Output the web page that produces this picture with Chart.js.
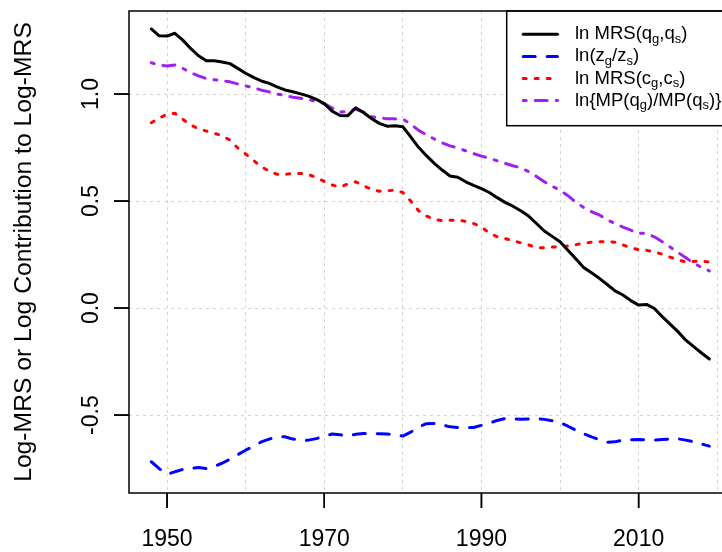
<!DOCTYPE html>
<html>
<head>
<meta charset="utf-8">
<script src="https://cdn.jsdelivr.net/npm/chart.js@4.4.1/dist/chart.umd.min.js"></script>
<style>
  html, body { margin: 0; padding: 0; background: #fff; overflow: hidden; }
  #wrap { width: 722px; height: 552px; overflow: hidden; position: relative; }
  #c, #ov { position: absolute; left: 0; top: 0; }
  #ov { pointer-events: none; z-index: 2; }
</style>
</head>
<body>
<div id="wrap">
  <canvas id="c" width="760" height="552" style="width:760px;height:552px"></canvas>
  <canvas id="ov" width="760" height="552" style="width:760px;height:552px"></canvas>
</div>
<script>
// annual observations, 1948-2019
const years = [
  1948, 1949, 1950, 1951, 1952, 1953, 1954, 1955, 1956, 1957,
  1958, 1959, 1960, 1961, 1962, 1963, 1964, 1965, 1966, 1967,
  1968, 1969, 1970, 1971, 1972, 1973, 1974, 1975, 1976, 1977,
  1978, 1979, 1980, 1981, 1982, 1983, 1984, 1985, 1986, 1987,
  1988, 1989, 1990, 1991, 1992, 1993, 1994, 1995, 1996, 1997,
  1998, 1999, 2000, 2001, 2002, 2003, 2004, 2005, 2006, 2007,
  2008, 2009, 2010, 2011, 2012, 2013, 2014, 2015, 2016, 2017,
  2018, 2019
];

// ln MRS(qg,qs)
const mrsQ = [
  1.304, 1.272, 1.271, 1.284, 1.252, 1.213, 1.179, 1.156, 1.156, 1.150,
  1.142, 1.120, 1.097, 1.078, 1.061, 1.050, 1.034, 1.019, 1.011, 1.001,
  0.990, 0.975, 0.955, 0.920, 0.900, 0.899, 0.936, 0.914, 0.886, 0.863,
  0.850, 0.852, 0.847, 0.800, 0.751, 0.712, 0.676, 0.645, 0.617, 0.611,
  0.590, 0.573, 0.558, 0.540, 0.516, 0.494, 0.476, 0.455, 0.430, 0.395,
  0.360, 0.335, 0.310, 0.270, 0.230, 0.190, 0.165, 0.139, 0.110, 0.080,
  0.061, 0.035, 0.014, 0.017, -0.002, -0.040, -0.075, -0.110, -0.150, -0.180,
  -0.210, -0.238
];

// ln(zg/zs)
const zRatio = [
  -0.718, -0.750, -0.777, -0.765, -0.754, -0.749, -0.745, -0.750, -0.740, -0.725,
  -0.706, -0.685, -0.664, -0.645, -0.625, -0.612, -0.603, -0.601, -0.612, -0.617,
  -0.617, -0.610, -0.600, -0.588, -0.592, -0.597, -0.590, -0.586, -0.586, -0.587,
  -0.588, -0.592, -0.598, -0.580, -0.555, -0.540, -0.539, -0.545, -0.555, -0.558,
  -0.558, -0.558, -0.548, -0.538, -0.525, -0.516, -0.518, -0.519, -0.518, -0.516,
  -0.520, -0.527, -0.535, -0.552, -0.570, -0.587, -0.602, -0.615, -0.627, -0.625,
  -0.617, -0.615, -0.614, -0.615, -0.617, -0.614, -0.612, -0.611, -0.617, -0.625,
  -0.635, -0.645
];

// ln MRS(cg,cs)
const mrsC = [
  0.866, 0.888, 0.905, 0.910, 0.882, 0.855, 0.838, 0.827, 0.817, 0.805,
  0.785, 0.748, 0.720, 0.690, 0.660, 0.640, 0.625, 0.625, 0.629, 0.629,
  0.624, 0.610, 0.592, 0.575, 0.565, 0.580, 0.590, 0.572, 0.555, 0.546,
  0.548, 0.551, 0.540, 0.500, 0.455, 0.430, 0.415, 0.408, 0.410, 0.411,
  0.405, 0.395, 0.380, 0.350, 0.333, 0.325, 0.315, 0.305, 0.295, 0.282,
  0.282, 0.285, 0.287, 0.290, 0.296, 0.303, 0.308, 0.310, 0.311, 0.308,
  0.295, 0.282, 0.273, 0.270, 0.262, 0.252, 0.238, 0.225, 0.216, 0.218,
  0.220, 0.215
];

// ln{MP(qg)/MP(qs)}
const mpRatio = [
  1.146, 1.135, 1.131, 1.136, 1.120, 1.100, 1.085, 1.072, 1.067, 1.062,
  1.057, 1.047, 1.038, 1.030, 1.018, 1.010, 1.000, 0.993, 0.985, 0.980,
  0.975, 0.965, 0.955, 0.935, 0.915, 0.920, 0.930, 0.915, 0.895, 0.888,
  0.885, 0.884, 0.883, 0.860, 0.830, 0.810, 0.790, 0.772, 0.758, 0.748,
  0.735, 0.722, 0.710, 0.700, 0.688, 0.676, 0.665, 0.655, 0.638, 0.615,
  0.590, 0.570, 0.550, 0.525, 0.495, 0.470, 0.450, 0.435, 0.413, 0.395,
  0.378, 0.364, 0.350, 0.349, 0.333, 0.310, 0.285, 0.260, 0.235, 0.210,
  0.190, 0.174
];

// legend labels, "_x" = subscript x
const seriesLabels = ['ln MRS(q_g,q_s)', 'ln(z_g/z_s)', 'ln MRS(c_g,c_s)', 'ln{MP(q_g)/MP(q_s)}'];

const xTicks = [1950, 1960, 1970, 1980, 1990, 2000, 2010, 2020];
const xTickLabels = ['1950', '', '1970', '', '1990', '', '2010', ''];
const yTicks = [-0.5, 0, 0.5, 1.0];
const yTickLabels = ['-0.5', '0.0', '0.5', '1.0'];
const yTitle = 'Log-MRS or Log Contribution to Log-MRS';

const FONT = "'Liberation Sans', Arial, Helvetica, sans-serif";

function pts(vals) {
    return years.map((yr, i) => ({ x: yr, y: vals[i] }));
}

function series(label, vals, color, dash) {
    return {
        label: label,
        data: pts(vals),
        borderColor: color,
        borderWidth: 3,
        borderDash: dash,
        borderCapStyle: 'round',
        borderJoinStyle: 'round',
        pointRadius: 0,
        tension: 0,
        fill: false
    };
}

// draw a label with "_x" subscripts
function drawRich(ctx, text, x, y, size) {
    let cx = x;
    const sub = Math.round(size * 0.7);
    for (let i = 0; i < text.length; i++) {
        let ch = text[i];
        if (ch === '_' && i + 1 < text.length) {
            ch = text[++i];
            ctx.font = sub + 'px ' + FONT;
            ctx.fillText(ch, cx, y + size * 0.28);
        } else {
            ctx.font = size + 'px ' + FONT;
            ctx.fillText(ch, cx, y);
        }
        cx += ctx.measureText(ch).width;
    }
}

// outside tick marks at the scale positions
function drawTicks(chart, ctx) {
    const a = chart.chartArea;
    const sx = chart.scales.x, sy = chart.scales.y;
    ctx.fillStyle = '#000';
    yTicks.forEach(v => {
        ctx.fillRect(a.left - 15, sy.getPixelForValue(v) - 0.75, 15, 1.5);
    });
    xTicks.forEach((v, i) => {
        if (xTickLabels[i]) ctx.fillRect(sx.getPixelForValue(v) - 0.75, a.bottom, 1.5, 15);
    });
}

// R style extras: top-right legend and frame
const rStylePlugin = {
    id: 'rstyle',
    afterDraw(chart) {
        const a = chart.chartArea, ctx = chart.ctx;

        const left = 506.7, top = a.top, bottom = 125.7, right = a.right;
        ctx.fillStyle = '#fff';
        ctx.fillRect(left, top, right - left, bottom - top);
        chart.data.datasets.forEach((ds, i) => {
            const y = 34.3 + i * 22.1;
            ctx.beginPath();
            ctx.strokeStyle = ds.borderColor;
            ctx.lineWidth = ds.borderWidth;
            ctx.lineCap = 'round';
            ctx.setLineDash(ds.borderDash || []);
            ctx.moveTo(523.2, y);
            ctx.lineTo(557.5, y);
            ctx.stroke();
            ctx.setLineDash([]);
            ctx.fillStyle = '#000';
            ctx.textBaseline = 'middle';
            ctx.textAlign = 'left';
            drawRich(ctx, ds.label, 575, y, 18.5);
        });
        ctx.setLineDash([]);
        ctx.lineCap = 'butt';
        ctx.strokeStyle = '#000';
        ctx.lineWidth = 1.5;
        ctx.strokeRect(left, top, right - left, bottom - top);
        ctx.strokeRect(a.left, a.top, a.right - a.left, a.bottom - a.top);
        drawTicks(chart, ctx);
    }
};

const chart = new Chart(document.getElementById('c'), {
    type: 'line',
    data: {
        datasets: [
            series(seriesLabels[0], mrsQ, '#000000', []),
            series(seriesLabels[1], zRatio, '#0000FF', [12, 12]),
            series(seriesLabels[2], mrsC, '#FF0000', [3, 9]),
            series(seriesLabels[3], mpRatio, '#A020F0', [3, 9, 12, 9])
        ]
    },
    options: {
        responsive: false,
        animation: false,
        events: [],
        layout: { padding: { left: 0, top: 11, right: 28.3, bottom: 0 } },
        plugins: { legend: { display: false }, tooltip: { enabled: false } },
        scales: {
            x: {
                type: 'linear',
                min: 1945.16,
                max: 2021.84,
                bounds: 'data',
                afterBuildTicks: s => { s.ticks = xTicks.map(v => ({ value: v })); },
                afterFit: s => { s.height = 59; s.paddingLeft = 0; s.paddingRight = 0; },
                border: { display: false, dash: [3, 4] },
                grid: { color: '#D3D3D3', lineWidth: 1, tickLength: 15, tickColor: 'rgba(0,0,0,0)' },
                ticks: {
                    autoSkip: false,
                    maxRotation: 0,
                    padding: 17.5,
                    color: '#000',
                    font: { family: FONT, size: 23, lineHeight: 1.2 },
                    callback: (v, i) => xTickLabels[i]
                }
            },
            y: {
                type: 'linear',
                min: -0.864,
                max: 1.388,
                bounds: 'data',
                afterBuildTicks: s => { s.ticks = yTicks.map(v => ({ value: v })); },
                afterFit: s => { s.width = 129; s.paddingTop = 0; s.paddingBottom = 0; },
                border: { display: false, dash: [3, 4] },
                grid: { color: '#D3D3D3', lineWidth: 1, tickLength: 15, tickColor: 'rgba(0,0,0,0)' },
                ticks: {
                    minRotation: 90,
                    maxRotation: 90,
                    crossAlign: 'center',
                    padding: 2.2,
                    color: '#000',
                    font: { family: FONT, size: 23, lineHeight: 1.2 },
                    callback: (v, i) => yTickLabels[i]
                },
                title: {
                    display: true,
                    text: yTitle,
                    color: '#000',
                    font: { family: FONT, size: 24.7, lineHeight: 1.2 },
                    padding: { top: 9.2, bottom: 0 }
                }
            }
        }
    },
    plugins: [rStylePlugin]
});

// same ticks again on a transparent layer above the chart canvas
drawTicks(chart, document.getElementById('ov').getContext('2d'));
</script>
</body>
</html>
